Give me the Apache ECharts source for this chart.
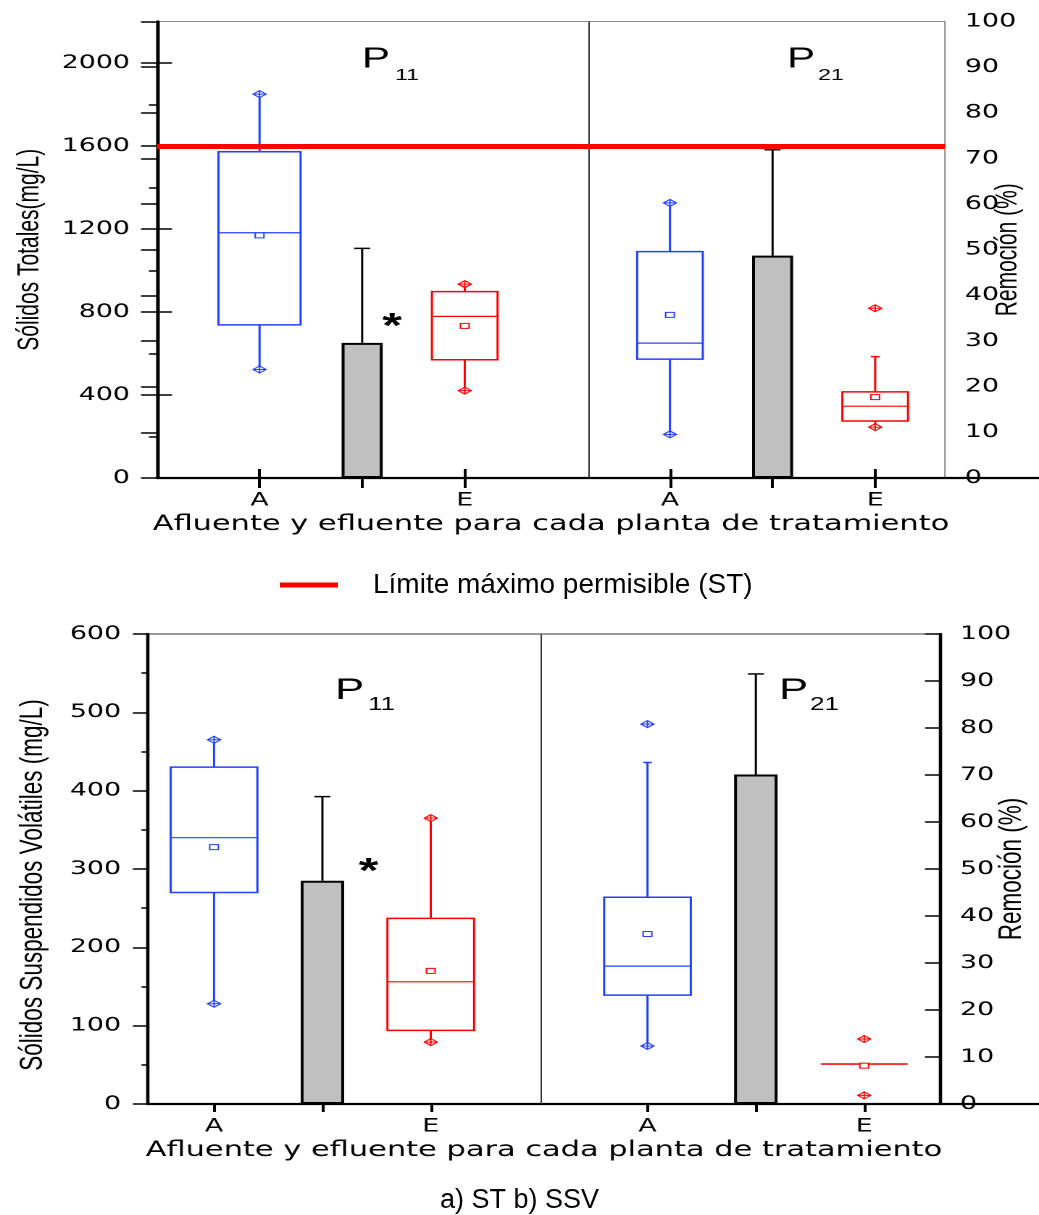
<!DOCTYPE html>
<html><head><meta charset="utf-8">
<script src="https://cdn.jsdelivr.net/npm/echarts@6/dist/echarts.min.js"></script>
<style>
html,body{margin:0;padding:0;background:#fff;width:1039px;height:1215px;overflow:hidden;}
#plots{position:absolute;left:0;top:0;width:717px;height:1215px;transform:scaleX(1.449093);transform-origin:0 0;}
#notes{position:absolute;left:0;top:0;width:1039px;height:1215px;pointer-events:none;}
</style></head><body>
<div id="plots"></div><div id="notes"></div>
<script>
// ================= DATA =================
const slotLabels = ['A', '', 'E'];          // afluente, remoción (barra), efluente
const plants = ['P11', 'P21'];
const plantSub = ['11', '21'];
const limitName = 'Límite máximo permisible (ST)';

// a) Sólidos Totales (mg/L): [bigote inf, Q1, mediana, Q3, bigote sup]
const stAfluente = [[523, 738, 1182, 1572, 1850], [210, 573, 650, 1091, 1326]];
const stEfluente = [[421, 570, 779, 898, 934], [245, 275, 346, 415, 585]];
const stAfluenteMean = [1169, 786];
const stEfluenteMean = [733, 390];
const stAfluenteMinMax = [[523, 1850], [210, 1326]];
const stEfluenteMinMax = [[421, 934], [245, 818]];
const stRemocion = [29.6, 48.7];        // %
const stRemocionUpper = [50.3, 71.9];   // % (media + desviación)
const stLimit = 1600;

// b) Sólidos Suspendidos Volátiles (mg/L)
const ssvAfluente = [[128, 270, 340, 430, 465], [74, 139, 176, 264, 436]];
const ssvEfluente = [[79, 94, 156, 237, 365], [51, 51, 51, 51, 51]];
const ssvAfluenteMean = [328, 217];
const ssvEfluenteMean = [170, 49];
const ssvAfluenteMinMax = [[128, 465], [74, 485]];
const ssvEfluenteMinMax = [[79, 365], [11, 83]];
const ssvRemocion = [47.5, 70.1];
const ssvRemocionUpper = [65.4, 91.5];

// tick labels
const stTicks = [0, 400, 800, 1200, 1600, 2000];
const stMinorTicks = [200, 600, 1000, 1400, 1800, 2200];
const ssvTicks = [0, 100, 200, 300, 400, 500, 600];
const ssvMinorTicks = [50, 150, 250, 350, 450, 550];
const remTicks = [0, 10, 20, 30, 40, 50, 60, 70, 80, 90, 100];

// ================= BUILD =================
const slotX = (p, i) => p * 4 + i + 1;
function boxData(stats, means, minmax) {
  return stats.map((s, p) => [slotX(p, 0), ...s, means[p], ...minmax[p]]);
}
function boxDataE(stats, means, minmax) {
  return stats.map((s, p) => [slotX(p, 2), ...s, means[p], ...minmax[p]]);
}
function barData(vals) { return vals.map((v, p) => [slotX(p, 1), v]); }
function errData(vals, upper) { return vals.map((v, p) => [slotX(p, 1), v, upper[p]]); }

const BLUE = '#2340ff', RED = '#ff0000';

function boxRender(color, widths) {
  return function (params, api) {
    const x = api.value(0);
    const lo = api.value(1), q1 = api.value(2), med = api.value(3), q3 = api.value(4), hi = api.value(5);
    const mean = api.value(6), mn = api.value(7), mx = api.value(8);
    const bw = api.size([widths[params.dataIndex], 0])[0];
    const px = api.coord([x, 0])[0];
    const y = v => api.coord([x, v])[1];
    const ls = {stroke: color, lineWidth: 1.5, fill: null};
    const thin = {stroke: color, lineWidth: 1, fill: null};
    const c = [];
    c.push({type: 'line', shape: {x1: px, y1: y(q1), x2: px, y2: y(lo)}, style: ls});
    c.push({type: 'line', shape: {x1: px, y1: y(q3), x2: px, y2: y(hi)}, style: ls});
    c.push({type: 'line', shape: {x1: px - 3, y1: y(lo), x2: px + 3, y2: y(lo)}, style: ls});
    c.push({type: 'line', shape: {x1: px - 3, y1: y(hi), x2: px + 3, y2: y(hi)}, style: ls});
    c.push({type: 'rect', shape: {x: px - bw / 2, y: y(q3), width: bw, height: y(q1) - y(q3)}, style: ls});
    c.push({type: 'line', shape: {x1: px - bw / 2, y1: y(med), x2: px + bw / 2, y2: y(med)}, style: {stroke: color, lineWidth: 1.2}});
    c.push({type: 'rect', shape: {x: px - 3, y: y(mean) - 2.5, width: 6, height: 5}, style: {stroke: color, lineWidth: 1, fill: '#fff'}});
    [mn, mx].forEach(v => {
      const yy = y(v);
      c.push({type: 'polygon', shape: {points: [[px - 4.5, yy], [px, yy - 3.5], [px + 4.5, yy], [px, yy + 3.5]]}, style: {stroke: color, lineWidth: 1, fill: '#fff'}});
      c.push({type: 'line', shape: {x1: px - 4.5, y1: yy, x2: px + 4.5, y2: yy}, style: thin});
      c.push({type: 'line', shape: {x1: px, y1: yy - 3.5, x2: px, y2: yy + 3.5}, style: thin});
    });
    return {type: 'group', children: c};
  };
}
function errRender(params, api) {
  const x = api.value(0);
  const p0 = api.coord([x, api.value(1)]);
  const p1 = api.coord([x, api.value(2)]);
  const st = {stroke: '#000', lineWidth: 1.5};
  return {type: 'group', children: [
    {type: 'line', shape: {x1: p0[0], y1: p0[1], x2: p1[0], y2: p1[1]}, style: st},
    {type: 'line', shape: {x1: p1[0] - 5.5, y1: p1[1], x2: p1[0] + 5.5, y2: p1[1]}, style: st}
  ]};
}

const plain = v => String(v);
const tickFont = {fontFamily: 'DejaVu Sans', fontSize: 18.5, color: '#000'};
const AXLINE = {show: true, lineStyle: {color: '#000', width: 2.3}};
const NOLINE = {show: false};

function xAxes(grid, min, max, majorIn, tickLenOut) {
  const main = {
    type: 'value', gridIndex: grid, min: min, max: max, interval: 1, position: 'bottom',
    axisLine: AXLINE, splitLine: {show: false},
    axisTick: {show: true, customValues: [1, 2, 3, 5, 6, 7], length: tickLenOut, lineStyle: {color: '#000', width: 2}},
    axisLabel: Object.assign({customValues: [1, 3, 5, 7], margin: 13,
      formatter: v => slotLabels[(Math.round(v) - 1) % 4]}, tickFont),
    name: 'Afluente y efluente para cada planta de tratamiento', nameLocation: 'middle', nameGap: 36,
    nameMoveOverlap: false,
    nameTextStyle: {fontFamily: 'DejaVu Sans', fontSize: 21, color: '#000'}
  };
  const arr = [main];
  if (majorIn) {
    arr.push({type: 'value', gridIndex: grid, min: min, max: max, interval: 1, position: 'bottom',
      axisLine: NOLINE, splitLine: {show: false}, axisLabel: {show: false},
      axisTick: {show: true, inside: true, customValues: [1, 3, 5, 7], length: 9, lineStyle: {color: '#000', width: 2}}});
  }
  return arr;
}

function yAxes(grid, max, interval, ticks, minors, nameL, nameSize, gapL, gapR, majIn, outLen, minLen, inLen, padL) {
  const left = {
    type: 'value', gridIndex: grid, min: 0, max: max, interval: interval, position: 'left',
    axisLine: AXLINE, splitLine: {show: false},
    axisTick: {show: true, customValues: ticks, length: outLen, lineStyle: {color: '#000', width: 1.5}},
    axisLabel: Object.assign({customValues: ticks, margin: 18.6, formatter: plain}, tickFont),
    name: nameL, nameLocation: 'middle', nameGap: gapL, nameMoveOverlap: false,
    nameTextStyle: {fontFamily: 'Liberation Sans', fontSize: nameSize, color: '#000', padding: padL}
  };
  const right = {
    type: 'value', gridIndex: grid, min: 0, max: 100, interval: 10, position: 'right',
    axisLine: AXLINE, splitLine: {show: false},
    axisTick: {show: true, inside: true, length: inLen, lineStyle: {color: '#000', width: 1.5}},
    axisLabel: Object.assign({margin: 13.8, customValues: remTicks, formatter: plain}, tickFont),
    name: 'Remoción (%)', nameLocation: 'middle', nameGap: gapR, nameMoveOverlap: false,
    nameTextStyle: {fontFamily: 'Liberation Sans', fontSize: nameSize, color: '#000'}
  };
  const minor = {
    type: 'value', gridIndex: grid, min: 0, max: max, interval: interval, position: 'left',
    axisLine: NOLINE, splitLine: {show: false}, axisLabel: {show: false},
    axisTick: {show: true, customValues: minors, length: minLen, lineStyle: {color: '#000', width: 1.5}}
  };
  const arr = [left, right, minor];
  if (majIn) {
    arr.push({type: 'value', gridIndex: grid, min: 0, max: max, interval: interval, position: 'left',
      axisLine: NOLINE, splitLine: {show: false}, axisLabel: {show: false},
      axisTick: {show: true, inside: true, customValues: ticks, length: majIn, lineStyle: {color: '#000', width: 1.5}}});
  }
  return arr;
}

// layout (unstretched pixel space; the canvas is stretched horizontally)
const TOP = {left: 108.3, right: 64.9, top: 21.5, height: 456.5, xMin: 0, xMax: 7.68, divider: 4.21};
const BOT = {left: 102.1, right: 68.3, top: 634, height: 470, xMin: 0.39, xMax: 7.70, divider: 4.02};

const xs = [...xAxes(0, TOP.xMin, TOP.xMax, true, 10), ...xAxes(1, BOT.xMin, BOT.xMax, false, 8)];
const ys = [
  ...yAxes(0, 2200, 400, stTicks, stMinorTicks, 'Sólidos Totales(mg/L)', 21, 77, 33, 10.4, 11, 5.5, 11, [0, 0, 0, 0]),
  ...yAxes(1, 600, 100, ssvTicks, ssvMinorTicks, 'Sólidos Suspendidos Volátiles (mg/L)', 22.5, 68, 38, 0, 10.4, 4.5, 10.4, [0, 32, 0, 0])
];

const dividerLine = v => ({silent: true, symbol: 'none', label: {show: false},
  lineStyle: {color: '#333', width: 1, type: 'solid'}, data: [{xAxis: v}]});

const series = [
  // ---- a) ST ----
  {type: 'bar', name: 'Remoción ST', xAxisIndex: 0, yAxisIndex: 1, data: barData(stRemocion), barWidth: 28.3,
   itemStyle: {color: '#c0c0c0', borderColor: '#000', borderWidth: 2}, markLine: dividerLine(TOP.divider), z: 2},
  {type: 'custom', name: 'Desv. ST', xAxisIndex: 0, yAxisIndex: 1, data: errData(stRemocion, stRemocionUpper),
   renderItem: errRender, encode: {x: 0, y: [1, 2]}, z: 3},
  {type: 'custom', name: 'Afluente ST', xAxisIndex: 0, yAxisIndex: 0, data: boxData(stAfluente, stAfluenteMean, stAfluenteMinMax),
   renderItem: boxRender(BLUE, [0.8, 0.64]), encode: {x: 0, y: [1, 2, 3, 4, 5]}, z: 4},
  {type: 'custom', name: 'Efluente ST', xAxisIndex: 0, yAxisIndex: 0, data: boxDataE(stEfluente, stEfluenteMean, stEfluenteMinMax),
   renderItem: boxRender(RED, [0.64, 0.64]), encode: {x: 0, y: [1, 2, 3, 4, 5]}, z: 4},
  {type: 'line', name: limitName, xAxisIndex: 0, yAxisIndex: 0, data: [], z: 6,
   markLine: {silent: true, symbol: 'none', label: {show: false}, z: 6,
     lineStyle: {color: RED, width: 5, type: 'solid'}, data: [{yAxis: stLimit}]}},
  // ---- b) SSV ----
  {type: 'bar', name: 'Remoción SSV', xAxisIndex: 2, yAxisIndex: 5, data: barData(ssvRemocion), barWidth: 30,
   itemStyle: {color: '#c0c0c0', borderColor: '#000', borderWidth: 2}, markLine: dividerLine(BOT.divider), z: 2},
  {type: 'custom', name: 'Desv. SSV', xAxisIndex: 2, yAxisIndex: 5, data: errData(ssvRemocion, ssvRemocionUpper),
   renderItem: errRender, encode: {x: 0, y: [1, 2]}, z: 3},
  {type: 'custom', name: 'Afluente SSV', xAxisIndex: 2, yAxisIndex: 4, data: boxData(ssvAfluente, ssvAfluenteMean, ssvAfluenteMinMax),
   renderItem: boxRender(BLUE, [0.8, 0.8]), encode: {x: 0, y: [1, 2, 3, 4, 5]}, z: 4},
  {type: 'custom', name: 'Efluente SSV', xAxisIndex: 2, yAxisIndex: 4, data: boxDataE(ssvEfluente, ssvEfluenteMean, ssvEfluenteMinMax),
   renderItem: boxRender(RED, [0.8, 0.8]), encode: {x: 0, y: [1, 2, 3, 4, 5]}, z: 4}
];

function pLabel(p, xP, yP, xS, yS, fp, fs) {
  return [
    {type: 'text', x: xP, y: yP, style: {text: 'P', fontFamily: 'Liberation Sans', fontSize: fp, fill: '#000', verticalAlign: 'middle'}},
    {type: 'text', x: xS, y: yS, style: {text: plantSub[p], fontFamily: 'Liberation Sans', fontSize: fs, fill: '#000', verticalAlign: 'middle'}}
  ];
}
const star = (x, y) => ({type: 'text', x: x, y: y, style: {text: '*', fontFamily: 'Liberation Sans', fontWeight: 'bold', fontSize: 35, fill: '#000', align: 'center', verticalAlign: 'middle'}});
const ext = (x1, y) => ({type: 'line', shape: {x1: x1, y1: y, x2: 717, y2: y}, style: {stroke: '#000', lineWidth: 2.3}});

const plots = echarts.init(document.getElementById('plots'), null, {devicePixelRatio: 2});
plots.setOption({
  animation: false,
  grid: [
    {left: TOP.left, right: TOP.right, top: TOP.top, height: TOP.height, show: true, borderColor: '#8a8a8a', borderWidth: 1, outerBoundsMode: 'none', containLabel: false},
    {left: BOT.left, right: BOT.right, top: BOT.top, height: BOT.height, show: true, borderColor: '#333', borderWidth: 1, outerBoundsMode: 'none', containLabel: false}
  ],
  xAxis: xs.map((a, i) => i < 2 ? a : Object.assign(a, {gridIndex: 1})),
  yAxis: ys,
  series: series,
  graphic: [
    ...pLabel(0, 249.8, 59.5, 272.6, 75.5, 29, 16),
    ...pLabel(1, 543.1, 59.5, 564.5, 75.5, 29, 16),
    ...pLabel(0, 231.2, 690.5, 254, 705, 30, 18),
    ...pLabel(1, 537.6, 690.5, 559, 705, 30, 18),
    star(270.5, 328), star(254.3, 873),
    ext(652.1, 478), ext(648.7, 1104)
  ]
});

const notes = echarts.init(document.getElementById('notes'));
notes.setOption({
  animation: false,
  title: {text: 'a) ST b) SSV', left: 'center', top: 1182,
    textStyle: {fontFamily: 'Liberation Sans', fontSize: 27, fontWeight: 'normal', color: '#000'}},
  legend: {left: 275, top: 566, icon: 'rect', itemWidth: 58, itemHeight: 5, data: [limitName],
    textStyle: {fontFamily: 'Liberation Sans', fontSize: 28, color: '#000', padding: [0, 0, 0, 30]}},
  grid: {left: 0, top: 0, width: 10, height: 10, show: false, outerBoundsMode: 'none'},
  xAxis: {type: 'value', show: false}, yAxis: {type: 'value', show: false},
  series: [{type: 'line', name: limitName, data: [], color: RED, lineStyle: {width: 5}}]
});
</script>
</body></html>
